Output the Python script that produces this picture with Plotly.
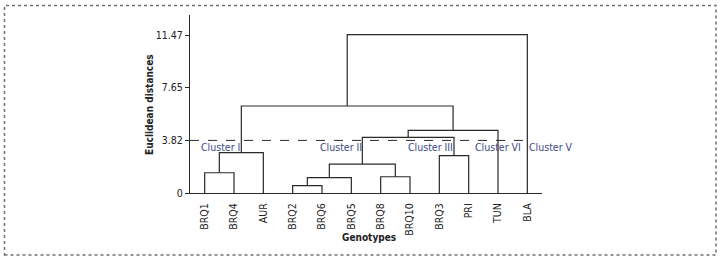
import plotly.graph_objects as go

# ---- data ----
leaves = ["BRQ1", "BRQ4", "AUR", "BRQ2", "BRQ6", "BRQ5", "BRQ8", "BRQ10", "BRQ3", "PRI", "TUN", "BLA"]
# linkage: node ids 0..11 are leaves, new nodes numbered from 12
merge_a = [0, 12, 3, 14, 6, 15, 8, 17, 19, 13, 21]
merge_b = [1, 2, 4, 5, 7, 16, 9, 18, 10, 20, 11]
merge_h = [1.47, 2.93, 0.53, 1.11, 1.18, 2.10, 2.71, 4.04, 4.55, 6.32, 11.50]
cut_height = 3.82
y_ticks = [0, 3.82, 7.65, 11.47]
y_ticklabels = ["0", "3.82", "7.65", "11.47"]
cluster_names = ["Cluster I", "Cluster II", "Cluster III", "Cluster VI", "Cluster V"]
cluster_x = [-0.14, 3.93, 6.93, 9.22, 11.07]

FONT = "DejaVu Sans Condensed, Liberation Sans, sans-serif"
LINE = "#2a2a2a"

pos = {i: (float(i), 0.0) for i in range(len(leaves))}
fig = go.Figure()
xs, ys = [], []
for k, (a, b, h) in enumerate(zip(merge_a, merge_b, merge_h)):
    xa, ya = pos[a]
    xb, yb = pos[b]
    xs += [xa, xa, xb, xb, None]
    ys += [ya, h, h, yb, None]
    pos[len(leaves) + k] = ((xa + xb) / 2, h)

fig.add_trace(go.Scatter(x=xs, y=ys, mode="lines", line=dict(color=LINE, width=1.2),
                         hoverinfo="skip", showlegend=False))
fig.add_trace(go.Scatter(x=[-0.5, len(leaves) - 1], y=[cut_height, cut_height], mode="lines",
                         line=dict(color=LINE, width=1, dash="dash"),
                         hoverinfo="skip", showlegend=False))

for name, cx in zip(cluster_names, cluster_x):
    fig.add_annotation(x=cx, y=3.36, text=name, showarrow=False, xanchor="left", yanchor="middle",
                       xshift=-2, font=dict(family=FONT, size=10.5, color="#3c4a86"))

fig.update_layout(
    width=722, height=261,
    margin=dict(l=190, r=180, t=15, b=68),
    paper_bgcolor="white", plot_bgcolor="white",
    font=dict(family=FONT, size=10.5, color="#222"),
    xaxis=dict(range=[-0.5, len(leaves) - 0.5], tickvals=list(range(len(leaves))), ticktext=leaves,
               tickangle=-90, showgrid=False, zeroline=False, showline=True, linecolor=LINE,
               linewidth=1.2, ticks="", ticklabelstandoff=5, fixedrange=True),
    yaxis=dict(range=[0, 12.93], tickvals=y_ticks, ticktext=y_ticklabels, showgrid=False,
               zeroline=False, showline=True, linecolor=LINE, linewidth=1.2, ticks="outside",
               ticklen=4, tickcolor=LINE, fixedrange=True),
)
fig.add_annotation(xref="paper", yref="paper", x=(369 - 190) / 352, y=(261 - 68 - 237) / 178,
                   text="<b>Genotypes</b>", showarrow=False, xanchor="center", yanchor="middle",
                   font=dict(family=FONT, size=10, color="#222"))
fig.add_annotation(xref="paper", yref="paper", x=(149 - 190) / 352, y=(193 - 105) / 178,
                   text="<b>Euclidean distances</b>", textangle=-90, showarrow=False,
                   xanchor="center", yanchor="middle",
                   font=dict(family=FONT, size=10, color="#222"))
fig.add_shape(type="rect", xref="paper", yref="paper",
              x0=(4.5 - 190) / 352, x1=(716 - 190) / 352,
              y0=(193 - 255) / 178, y1=(193 - 5.5) / 178,
              line=dict(color="#707070", width=1.5, dash="dot"))

fig.write_html("out.html", config={"displayModeBar": False},
               post_script="document.body.style.margin='0';")
